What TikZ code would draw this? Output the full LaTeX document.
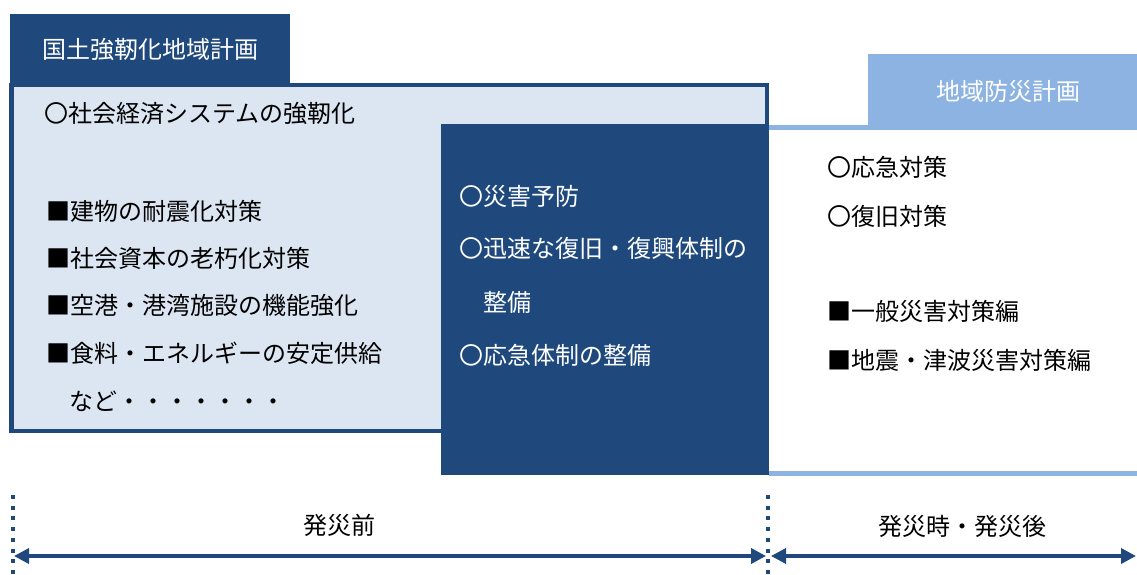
\documentclass[tikz,border=0pt]{standalone}
\usepackage{fontspec}
\setmainfont{Noto Sans CJK JP}
\usetikzlibrary{arrows.meta}
\definecolor{navy}{RGB}{31,73,125}
\definecolor{pale}{RGB}{220,230,242}
\definecolor{sky}{RGB}{141,179,226}
\tikzset{
  txt/.style={anchor=west, inner sep=0pt, font=\fontsize{24}{28}\selectfont},
  wtxt/.style={txt, text=white},
  boxnode/.style={inner sep=0pt, outer sep=0pt},
  skyline/.style={draw=sky, line width=5pt},
  dotline/.style={draw=navy, line width=4pt, dash pattern=on 4pt off 6.7pt},
  span/.style={draw=navy, line width=3.5pt, {Triangle[length=15pt,width=15pt]}-{Triangle[length=15pt,width=15pt]}},
}
\begin{document}
\begin{tikzpicture}[x=1pt,y=-1pt]
\useasboundingbox (0,0) rectangle (1137,575);
% left tab
\node[boxnode, fill=navy, minimum width=280pt, minimum height=70pt] (tabL) at (150,49) {};
\node[txt, text=white, anchor=center] (tabLt) at (tabL.center) {国土強靭化地域計画};
% left box
\node[boxnode, draw=navy, line width=4.5pt, fill=pale, minimum width=755.5pt, minimum height=345.5pt] (boxL) at (389,258) {};
% right tab
\node[boxnode, fill=sky, minimum width=270pt, minimum height=71pt] (tabR) at (1003,90) {};
\node[txt, text=white, anchor=center] (tabRt) at (1008,91) {地域防災計画};
% right box (open)
\node[boxnode, minimum width=368pt, minimum height=346pt] (boxR) at (953,300.5) {};
\draw[skyline] (boxR.north west) -- (boxR.north east);
\draw[skyline] (boxR.south west) -- (boxR.south east);
% middle box
\node[boxnode, fill=navy, minimum width=328pt, minimum height=351pt] (boxM) at (605,299.5) {};
% left texts
\node[txt] (l0) at (44,113) {〇社会経済システムの強靭化};
\node[txt] (l1) at (46,211) {■建物の耐震化対策};
\node[txt] (l2) at (46,258) {■社会資本の老朽化対策};
\node[txt] (l3) at (46,305) {■空港・港湾施設の機能強化};
\node[txt] (l4) at (46,353) {■食料・エネルギーの安定供給};
\node[txt] (l5) at (69,401) {など・・・・・・・};
% middle texts
\node[wtxt] (m1) at (459,196) {〇災害予防};
\node[wtxt] (m2) at (459,248) {〇迅速な復旧・復興体制の};
\node[wtxt] (m3) at (483,302) {整備};
\node[wtxt] (m4) at (459,355) {〇応急体制の整備};
% right texts
\node[txt] (r1) at (827,167) {〇応急対策};
\node[txt] (r2) at (827,216) {〇復旧対策};
\node[txt] (r3) at (827,311) {■一般災害対策編};
\node[txt] (r4) at (827,360) {■地震・津波災害対策編};
% timeline
\coordinate (d1a) at (13,495);
\coordinate (d1b) at (13,575);
\coordinate (d2a) at (768,495);
\coordinate (d2b) at (768,575);
\draw[dotline] (d1a) -- (d1b);
\draw[dotline] (d2a) -- (d2b);
\coordinate (a1) at (14,556);
\coordinate (a2) at (766,556);
\coordinate (a3) at (771,556);
\coordinate (a4) at (1136,556);
\draw[span] (a1) -- (a2);
\draw[span] (a3) -- (a4);
\node[txt, anchor=center] (pre) at (339,525) {発災前};
\node[txt, anchor=center] (post) at (962,526) {発災時・発災後};
\end{tikzpicture}
\end{document}
